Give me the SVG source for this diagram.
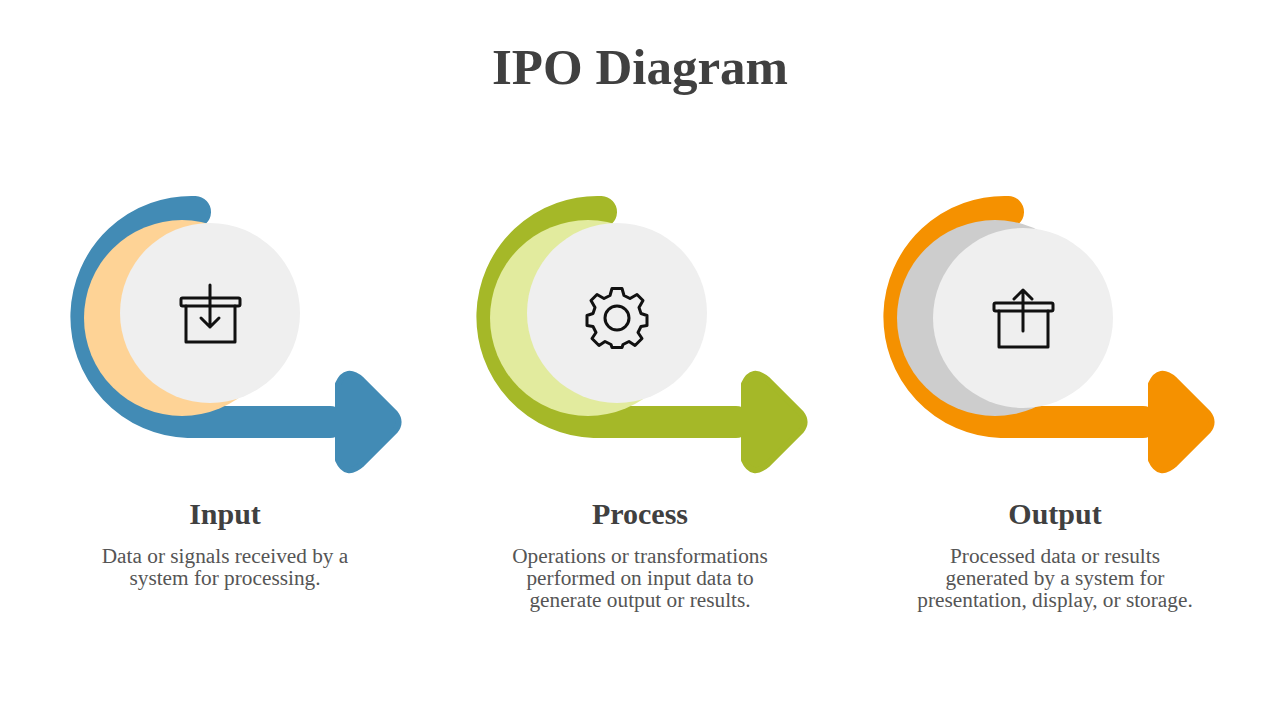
<svg xmlns="http://www.w3.org/2000/svg" width="1280" height="720" viewBox="0 0 1280 720">
<defs>
<style>
.t{font-family:"Liberation Serif","DejaVu Serif",serif;fill:#404040;text-anchor:middle}
.h{font-size:30px;font-weight:bold}
.d{font-size:21.3px;fill:#555}
.ic{fill:none;stroke:#111;stroke-width:3;stroke-linecap:round;stroke-linejoin:round}
</style>
<g id="shape">
<path d="M195,212 A105,105 0 1 0 188,422 L330,422" fill="none" stroke-width="32" stroke-linecap="round"/>
<path d="M338,398 L338,384 Q346,366 362,380 L395,413 Q402,422 395,431 L362,464 Q346,478 338,460 L338,446 Z" stroke-width="6" stroke-linejoin="round"/>
</g>
</defs>
<rect width="1280" height="720" fill="#fff"/>
<text class="t" x="640" y="84" font-size="51" font-weight="bold">IPO Diagram</text>
<g id="input">
<use href="#shape" fill="#428bb5" stroke="#428bb5"/>
<circle cx="182" cy="318" r="98" fill="#fed396"/>
<circle cx="210" cy="313" r="90" fill="#efefef"/>
<g class="ic"><rect x="181" y="298" width="59" height="8" rx="1.5"/><path d="M186,306 V342 H235 V306"/><path d="M210,285 V327 M201,318 L210,327 L219,318"/></g>
<text class="t h" x="225" y="524">Input</text>
<text class="t d" x="225" y="563">Data or signals received by a</text>
<text class="t d" x="225" y="585">system for processing.</text>
</g>
<g id="process">
<use href="#shape" transform="translate(406,0)" fill="#a5b828" stroke="#a5b828"/>
<circle cx="588" cy="318" r="98" fill="#e2eb9e"/>
<circle cx="617" cy="313" r="90" fill="#efefef"/>
<g class="ic" transform="translate(617,318)">
<circle r="12"/>
<path d="M-5,-29 H5 L7,-22 L13,-19 L20,-23 L26,-17 L22,-10 L24,-4 L30,-2 V8 L24,9 L21,15 L25,21 L18,28 L12,24 L6,27 L5,30 H-5 L-6,27 L-12,24 L-18,28 L-25,21 L-21,15 L-24,9 L-30,8 V-2 L-24,-4 L-22,-10 L-26,-17 L-20,-23 L-13,-19 L-7,-22 Z" transform="translate(0,-0.5)"/>
</g>
<text class="t h" x="640" y="524">Process</text>
<text class="t d" x="640" y="563">Operations or transformations</text>
<text class="t d" x="640" y="585">performed on input data to</text>
<text class="t d" x="640" y="607">generate output or results.</text>
</g>
<g id="output">
<use href="#shape" transform="translate(813,0)" fill="#f59100" stroke="#f59100"/>
<circle cx="995" cy="318" r="98" fill="#cdcdcd"/>
<circle cx="1023" cy="318" r="90" fill="#efefef"/>
<g class="ic"><rect x="994" y="303" width="59" height="8" rx="1.5"/><path d="M999,311 V347 H1048 V311"/><path d="M1023,331 V290 M1014,299 L1023,290 L1032,299"/></g>
<text class="t h" x="1055" y="524">Output</text>
<text class="t d" x="1055" y="563">Processed data or results</text>
<text class="t d" x="1055" y="585">generated by a system for</text>
<text class="t d" x="1055" y="607">presentation, display, or storage.</text>
</g>
</svg>
